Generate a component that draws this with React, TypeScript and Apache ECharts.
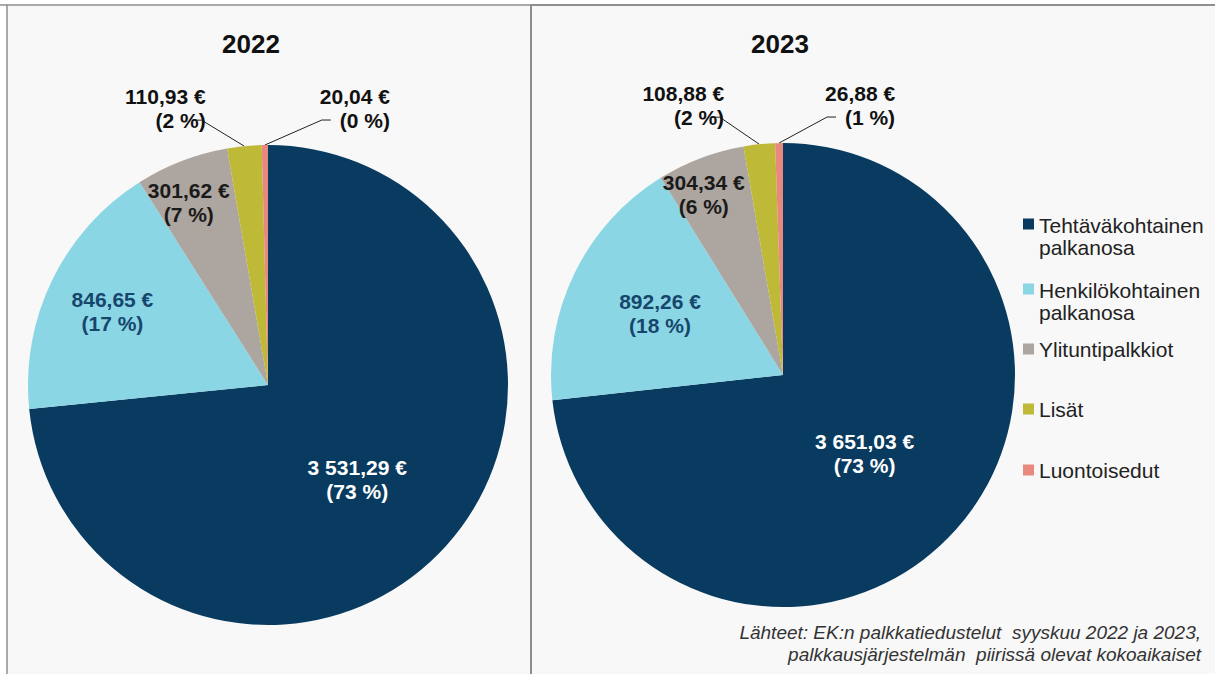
import React, { useEffect, useRef } from 'react';
import * as echarts from 'echarts';

// ---- data ----
const categories = [
  'Tehtäväkohtainen palkanosa',
  'Henkilökohtainen palkanosa',
  'Ylituntipalkkiot',
  'Lisät',
  'Luontoisedut',
];
const years = ['2022', '2023'];
const values2022 = [3531.29, 846.65, 301.62, 110.93, 20.04];
const values2023 = [3651.03, 892.26, 304.34, 108.88, 26.88];
const percents2022 = [73, 17, 7, 2, 0];
const percents2023 = [73, 18, 6, 2, 1];
const sourceLines = [
  'Lähteet: EK:n palkkatiedustelut  syyskuu 2022 ja 2023,',
  'palkkausjärjestelmän  piirissä olevat kokoaikaiset',
];

// ---- styles ----
const FONT = '"Liberation Sans", Arial, Helvetica, sans-serif';
const colors = ['#083B5F', '#8AD6E4', '#ADA59F', '#BEB936', '#E8887E'];
const labelPositions = ['inside', 'inside', 'inside', 'outside', 'outside'];
const labelColors = ['#FFFFFF', '#17466D', '#1A1A1A', '#111111', '#111111'];
// offsets: inside labels relative to default inside spot, outside labels relative to the slice edge
const labelOffsets2022 = [[-2, 12], [-45, -20], [-35, -68], [-79, -38], [90, -37]];
const labelOffsets2023 = [[-7, -1], [-16, -9], [-37, -69], [-76, -39], [81, -38]];
const legendTops = [214, 279, 338, 398, 459];
const sourceTops = [623, 645];

function fmtEuro(v: number): string {
  const [i, d] = v.toFixed(2).split('.');
  const ii = i.replace(/\B(?=(\d{3})+(?!\d))/g, ' ');
  return `${ii},${d} €`;
}

function buildLayout(offsets: number[][]) {
  return (p: any) => {
    const i = p.dataIndex;
    const off = offsets[i];
    const lr = p.labelRect;
    const w = lr.width;
    const h = lr.height;
    let cx: number;
    let cy: number;
    let points: number[][] | null = null;
    if (labelPositions[i] === 'outside') {
      const edge =
        p.labelLinePoints && p.labelLinePoints[0]
          ? p.labelLinePoints[0]
          : [p.rect.x + p.rect.width / 2, p.rect.y];
      cx = edge[0] + off[0];
      cy = edge[1] + off[1];
      const side = off[0] < 0 ? 1 : -1;
      const ex = cx + side * (0.3 * w + 3);
      const ey = cy + h * 0.25;
      points = [
        [edge[0], edge[1]],
        [ex + side * 9, ey],
        [ex, ey],
      ];
    } else {
      cx = lr.x + w / 2 + off[0];
      cy = lr.y + h / 2 + off[1];
    }
    const x = p.align === 'right' ? cx + w / 2 : p.align === 'left' ? cx - w / 2 : cx;
    const y = p.verticalAlign === 'top' ? cy - h / 2 : p.verticalAlign === 'bottom' ? cy + h / 2 : cy;
    return points ? { x, y, labelLinePoints: points } : { x, y };
  };
}

function buildSeries(values: number[], percents: number[], center: number[], radius: number, offsets: number[][]) {
  return {
    type: 'pie',
    center,
    radius,
    startAngle: 90,
    clockwise: true,
    avoidLabelOverlap: false,
    silent: true,
    data: values.map((v, i) => ({
      name: categories[i],
      value: v,
      itemStyle: { color: colors[i] },
      label: {
        show: true,
        position: labelPositions[i],
        color: labelColors[i],
        formatter: `${fmtEuro(v)}\n(${percents[i]} %)`,
      },
      labelLine: { show: labelPositions[i] === 'outside' },
    })),
    label: {
      fontFamily: FONT,
      fontSize: 21,
      fontWeight: 'bold',
      lineHeight: 24,
      align: 'center',
    },
    labelLine: {
      show: true,
      length: 12,
      length2: 8,
      lineStyle: { color: '#222', width: 1 },
    },
    labelLayout: buildLayout(offsets),
  };
}

export default function App() {
  const ref = useRef<HTMLDivElement>(null);
  useEffect(() => {
    if (!ref.current) return;
    const chart = echarts.init(ref.current, null, { renderer: 'svg' });
    const twoLineIcon = 'path://M0,0H11V11H0Z M0,34.9H0.1V35H0Z';
    const option: any = {
      animation: false,
      backgroundColor: '#FFFFFF',
      title: years.map((y, i) => ({
        text: y,
        left: i === 0 ? 251 : 780,
        top: 30,
        textAlign: 'center',
        padding: 0,
        textStyle: { fontFamily: FONT, fontSize: 26, fontWeight: 'bold', color: '#111', lineHeight: 28 },
      })),
      legend: categories.map((name, i) => {
        const twoLine = name.includes(' palkanosa');
        return {
          data: [name],
          left: 1023,
          top: legendTops[i],
          orient: 'vertical',
          selectedMode: false,
          padding: 0,
          itemGap: 0,
          itemWidth: 11,
          itemHeight: twoLine ? 35 : 11,
          icon: twoLine ? twoLineIcon : 'rect',
          formatter: (n: string) => n.replace(' palkanosa', '\npalkanosa'),
          textStyle: { fontFamily: FONT, fontSize: 21, color: '#222', lineHeight: 22 },
        };
      }),
      graphic: [
        {
          type: 'rect',
          z: -10,
          shape: { x: 7, y: 5, width: 524, height: 690 },
          style: { fill: '#F8F8F8', stroke: '#8E8E8E', lineWidth: 1.5 },
        },
        {
          type: 'rect',
          z: -10,
          shape: { x: 531, y: 5, width: 700, height: 690 },
          style: { fill: '#F8F8F8', stroke: '#8E8E8E', lineWidth: 2 },
        },
        {
          type: 'line',
          z: -10,
          shape: { x1: 0, y1: 5, x2: 7, y2: 5 },
          style: { stroke: '#8E8E8E', lineWidth: 1.5 },
        },
        ...sourceLines.map((t, i) => ({
          type: 'text',
          right: 14,
          top: sourceTops[i],
          style: {
            text: t,
            fontFamily: FONT,
            fontSize: 19,
            fontStyle: 'italic',
            fill: '#333',
          },
        })),
      ],
      series: [
        buildSeries(values2022, percents2022, [268, 385], 240, labelOffsets2022),
        buildSeries(values2023, percents2023, [783, 375], 232, labelOffsets2023),
      ],
    };
    chart.setOption(option);
    return () => chart.dispose();
  }, []);
  return (
    <div
      ref={ref}
      style={{ position: 'absolute', left: 0, top: 0, width: 1215, height: 674 }}
    />
  );
}
